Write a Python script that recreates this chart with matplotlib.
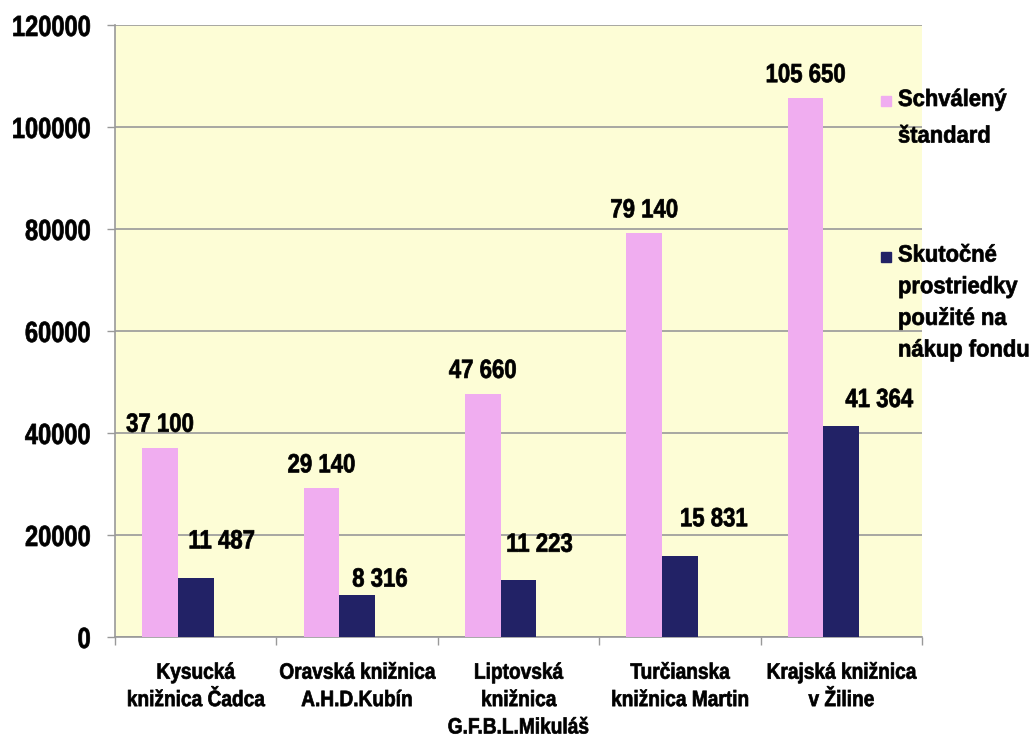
import numpy as np
import matplotlib
matplotlib.use('Agg')
import matplotlib.pyplot as plt
from matplotlib.patches import Rectangle
from matplotlib import patheffects
from matplotlib.transforms import Affine2D

plt.rcParams['font.family'] = ['Liberation Sans', 'DejaVu Sans']
plt.rcParams['font.weight'] = 'bold'

# data
categories = ['Kysucká\nknižnica Čadca', 'Oravská knižnica\nA.H.D.Kubín',
              'Liptovská\nknižnica\nG.F.B.L.Mikuláš', 'Turčianska\nknižnica Martin',
              'Krajská knižnica\nv Žiline']
standard = [37100, 29140, 47660, 79140, 105650]
actual = [11487, 8316, 11223, 15831, 41364]
series_names = ['Schválený\nštandard', 'Skutočné\nprostriedky\npoužité na\nnákup fondu']
yticks = [0, 20000, 40000, 60000, 80000, 100000, 120000]

# label nudges (pixels) for the dark series labels, as placed in the original
actual_label_nudge = [(26, 37), (23, 15), (21, 35), (34, 37), (38, 26)]

pink = '#F0ADF0'
navy = '#222266'
bg = '#FDFDD6'
grid_c = '#999999'


# the original text is squeezed sideways (stretched chart), imitate it
class Squeeze(patheffects.AbstractPathEffect):
    def __init__(self, sx, anchor='center', lw=0.5):
        super().__init__()
        self.sx = sx
        self.anchor = anchor
        self.lw = lw

    def draw_path(self, renderer, gc, tpath, affine, rgbFace=None):
        xs = affine.transform(tpath.vertices)[:, 0]
        if self.anchor == 'left':
            ref = xs.min()
        elif self.anchor == 'right':
            ref = xs.max()
        else:
            ref = (xs.min() + xs.max()) / 2
        aff = affine + Affine2D().translate(-ref, 0).scale(self.sx, 1).translate(ref, 0)
        gc0 = renderer.new_gc()
        gc0.copy_properties(gc)
        if self.lw and rgbFace is not None:
            gc0.set_linewidth(self.lw)
            gc0.set_foreground(rgbFace)
        renderer.draw_path(gc0, tpath, aff, rgbFace)
        gc0.restore()


fig = plt.figure(figsize=(10.36, 7.37), dpi=100)
ax = fig.add_axes([115/1036, 1 - 637/737, (922 - 115)/1036, (637 - 25)/737])
ax.set_facecolor(bg)

x = np.arange(len(categories))
w = 0.221
ax.bar(x - w, standard, w, color=pink, zorder=3)
ax.bar(x, actual, w, color=navy, zorder=3)

def fmt(v):
    return f'{v:,}'.replace(',', ' ')

val_fx = [Squeeze(0.84)]
for xi, v in zip(x - w, standard):
    ax.annotate(fmt(v), (xi, v), xytext=(0, 23), textcoords='offset pixels',
                ha='center', va='center', fontsize=19, fontweight='bold', zorder=5,
                path_effects=val_fx)
for xi, v, (dx, dy) in zip(x, actual, actual_label_nudge):
    ax.annotate(fmt(v), (xi, v), xytext=(dx, dy), textcoords='offset pixels',
                ha='center', va='center', fontsize=19, fontweight='bold', zorder=5,
                path_effects=val_fx)

ax.set_xlim(-0.5, len(categories) - 0.5)
ax.set_ylim(0, 120000)
ax.set_yticks(yticks)
ax.set_yticklabels([str(t) for t in yticks], fontsize=21, fontweight='bold')
plt.setp(ax.get_yticklabels(), path_effects=[Squeeze(0.81, 'right')])
ax.yaxis.grid(True, color=grid_c, linewidth=1.2, zorder=0)
ax.tick_params(axis='y', length=5.8, width=1, color=grid_c, pad=11.5)

ax.set_xticks(x)
ax.set_xticklabels(categories, fontsize=16, fontweight='bold', linespacing=1.4)
plt.setp(ax.get_xticklabels(), path_effects=[Squeeze(0.86)])
ax.tick_params(axis='x', which='major', length=0, pad=18.5)
ax.set_xticks(np.arange(len(categories) + 1) - 0.5, minor=True)
ax.tick_params(axis='x', which='minor', length=5.8, width=1, color=grid_c)

for side in ['top', 'right']:
    ax.spines[side].set_visible(False)
for side in ['left', 'bottom']:
    ax.spines[side].set_color(grid_c)
    ax.spines[side].set_linewidth(1.2)

# legend drawn at the right, overlapping plot area as in the original
leg_colors = [pink, navy]
leg_sq = [101, 257]
leg_last_base = [142.5, 356.5]
leg_spacing = [1.75, 1.48]
for name, c, sy, by, ls in zip(series_names, leg_colors, leg_sq, leg_last_base, leg_spacing):
    fig.patches.append(Rectangle((881/1036, 1 - (sy + 5)/737), 10/1036, 10/737,
                                 transform=fig.transFigure, color=c, zorder=6))
    fig.text(898/1036, 1 - by/737, name, fontsize=17, fontweight='bold',
             ha='left', va='baseline', linespacing=ls, zorder=6,
             path_effects=[Squeeze(0.93, 'left')])

fig.savefig('out.png', dpi=100)
